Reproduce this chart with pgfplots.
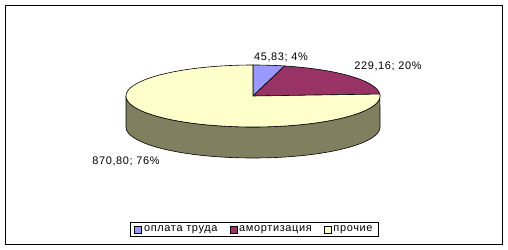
\documentclass[border=0pt]{standalone}
\usepackage{pgfplots}
\pgfplotsset{compat=1.18}
\usepackage{fontspec}
\setmainfont[LetterSpace=6]{Liberation Sans}
\definecolor{cblue}{RGB}{153,153,255}
\definecolor{cpurple}{RGB}{153,51,102}
\definecolor{ccream}{RGB}{255,255,204}
\definecolor{cside}{RGB}{128,128,96}
% data values
\def\vA{45.83}
\def\vB{229.16}
\def\vC{870.80}
\pgfmathsetmacro\tot{\vA+\vB+\vC}
\pgfmathsetmacro\fA{\vA/\tot}
\pgfmathsetmacro\fB{\vB/\tot}
\pgfmathsetmacro\aA{90-360*\fA}
\pgfmathsetmacro\aB{\aA-360*\fB}
\pgfmathsetmacro\aCend{\aB+360}
\begin{document}
\begin{tikzpicture}
\begin{axis}[
 width=508bp, height=250bp, scale only axis,
 xmin=0, xmax=508, ymin=0, ymax=250, y dir=reverse,
 axis lines=none, clip=false,
 legend columns=3,
 legend style={at={(axis cs:254.5,229.5)}, anchor=center, draw=black, line width=0.8bp,
   font=\fontsize{11}{13}\selectfont, inner xsep=4bp, inner ysep=1.5bp,
   /tikz/every even column/.append style={column sep=10bp}},
 legend image code/.code={\draw[#1, line width=0.6bp] (0bp,-3.5bp) rectangle (7bp,3.5bp);},
]
\path (axis cs:0,0) rectangle (axis cs:508,250);
\draw[line width=1bp] (axis cs:5,5) rectangle (axis cs:502,244);
% side
\addplot[fill=cside, draw=black, line width=0.6bp, domain=180:540, samples=181, forget plot]
 ({253+127*cos((x<=360) ? x : (720-x))}, {96-31*sin((x<=360) ? x : (720-x))+((x<=360) ? 31 : 0)}) -- cycle;
% slices
\addplot[fill=cblue, draw=black, line width=0.6bp, domain=\aA:90, samples=20]
 ({253+127*cos(x)}, {96-31*sin(x)}) -- (axis cs:253,96) -- cycle;
\addlegendentry{оплата труда}
\addplot[fill=cpurple, draw=black, line width=0.6bp, domain=\aB:\aA, samples=60]
 ({253+127*cos(x)}, {96-31*sin(x)}) -- (axis cs:253,96) -- cycle;
\addlegendentry{амортизация}
\addplot[fill=ccream, draw=black, line width=0.6bp, domain=90:\aCend, samples=181]
 ({253+127*cos(x)}, {96-31*sin(x)}) -- (axis cs:253,96) -- cycle;
\addlegendentry{прочие}
% labels
\node[font=\fontsize{11}{13}\selectfont] at (axis cs:281,57) {45,83; 4\%};
\node[font=\fontsize{11}{13}\selectfont] at (axis cs:388,66) {229,16; 20\%};
\node[font=\fontsize{11}{13}\selectfont] at (axis cs:126,161) {870,80; 76\%};
\end{axis}
\end{tikzpicture}
\end{document}
